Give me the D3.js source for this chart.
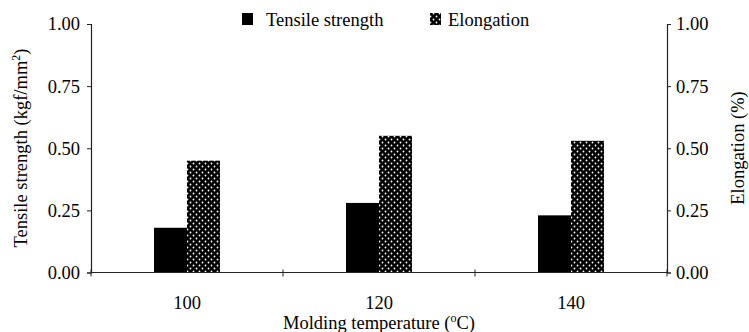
<!DOCTYPE html>
<html>
<head>
<meta charset="utf-8">
<script src="https://cdn.jsdelivr.net/npm/d3@7"></script>
<style>
  body { margin: 0; background: #fff; }
  svg text { fill: #000; }
</style>
</head>
<body>
<svg id="chart" width="749" height="332"></svg>
<script>
const categories = ["100", "120", "140"];
const tensileStrength = [0.18, 0.28, 0.23];
const elongation = [0.45, 0.55, 0.53];
const yTicks = [0, 0.25, 0.5, 0.75, 1.0];
const seriesNames = ["Tensile strength", "Elongation"];

const FONT = '"Liberation Serif", "Times New Roman", Times, serif';
const FS = "18.5px";
const svg = d3.select("#chart");
const mLeft = 91, mRight = 667, mTop = 24, mBottom = 272.5;

const defs = svg.append("defs");
const pat = defs.append("pattern")
  .attr("id", "dots").attr("patternUnits", "userSpaceOnUse")
  .attr("width", 6).attr("height", 6);
pat.append("rect").attr("width", 6).attr("height", 6).attr("fill", "#000");
pat.append("circle").attr("cx", 1.5).attr("cy", 1.5).attr("r", 0.9).attr("fill", "#fff");
pat.append("circle").attr("cx", 4.5).attr("cy", 4.5).attr("r", 0.9).attr("fill", "#fff");

const x = d3.scaleBand().domain(categories).range([mLeft, mRight]).paddingInner(0).paddingOuter(0);
const yL = d3.scaleLinear().domain([0, 1]).range([mBottom, mTop]);
const yR = d3.scaleLinear().domain([0, 1]).range([mBottom, mTop]);

const barW = 33;

const g = svg.append("g");
g.selectAll("rect.ts").data(categories).join("rect")
  .attr("class", "ts")
  .attr("x", d => x(d) + x.bandwidth() / 2 - barW)
  .attr("width", barW)
  .attr("y", (d, i) => yL(tensileStrength[i]))
  .attr("height", (d, i) => yL(0) - yL(tensileStrength[i]))
  .attr("fill", "#000");
g.selectAll("rect.el").data(categories).join("rect")
  .attr("class", "el")
  .attr("x", d => x(d) + x.bandwidth() / 2)
  .attr("width", barW)
  .attr("y", (d, i) => yR(elongation[i]))
  .attr("height", (d, i) => yR(0) - yR(elongation[i]))
  .attr("fill", "url(#dots)");

const axL = svg.append("g").attr("transform", `translate(${mLeft},0)`)
  .call(d3.axisLeft(yL).tickValues(yTicks).tickFormat(d3.format(".2f")).tickSize(4).tickPadding(7));
const axR = svg.append("g").attr("transform", `translate(${mRight},0)`)
  .call(d3.axisRight(yR).tickValues(yTicks).tickFormat(d3.format(".2f")).tickSize(4).tickPadding(5));
const axB = svg.append("g").attr("transform", `translate(0,${mBottom})`)
  .call(d3.axisBottom(x).tickSize(0).tickPadding(23));
const bounds = categories.map(c => x(c)).concat([x(categories[categories.length - 1]) + x.bandwidth()]);
svg.append("g").selectAll("line").data(bounds).join("line")
  .attr("x1", d => d).attr("x2", d => d)
  .attr("y1", mBottom - 3).attr("y2", mBottom + 4)
  .attr("stroke", "#222").attr("stroke-width", 1);

[axL, axR, axB].forEach(a => {
  a.attr("font-family", null).attr("font-size", null);
  a.selectAll("path.domain").attr("stroke", "#222").attr("stroke-width", 1.2);
  a.selectAll(".tick line").attr("stroke", "#222");
  a.selectAll("text").style("font-family", FONT).style("font-size", FS).attr("fill", "#000");
});
axB.select("path.domain").attr("d", `M${mLeft},0H${mRight}`);

const lt = svg.append("text")
  .attr("transform", `translate(27,148) rotate(-90)`)
  .attr("text-anchor", "middle").style("font-family", FONT).style("font-size", FS);
lt.append("tspan").text("Tensile strength (kgf/mm");
lt.append("tspan").text("2").attr("dy", -7).style("font-size", "12px");
lt.append("tspan").text(")").attr("dy", 7);

svg.append("text")
  .attr("transform", `translate(744,148) rotate(-90)`)
  .attr("text-anchor", "middle").style("font-family", FONT).style("font-size", FS)
  .text("Elongation (%)");

const xt = svg.append("text")
  .attr("x", 379).attr("y", 329)
  .attr("text-anchor", "middle").style("font-family", FONT).style("font-size", FS);
xt.append("tspan").text("Molding temperature (");
xt.append("tspan").text("o").attr("dy", -7).style("font-size", "12px");
xt.append("tspan").text("C)").attr("dy", 7);

const leg = svg.append("g");
const legX = [242, 430], legTX = [266, 448];
seriesNames.forEach((n, i) => {
  leg.append("rect").attr("x", legX[i]).attr("y", 13).attr("width", 11).attr("height", 12)
    .attr("fill", i === 0 ? "#000" : "url(#dots)");
  leg.append("text").attr("x", legTX[i]).attr("y", 26)
    .style("font-family", FONT).style("font-size", FS).text(n);
});
</script>
</body>
</html>
